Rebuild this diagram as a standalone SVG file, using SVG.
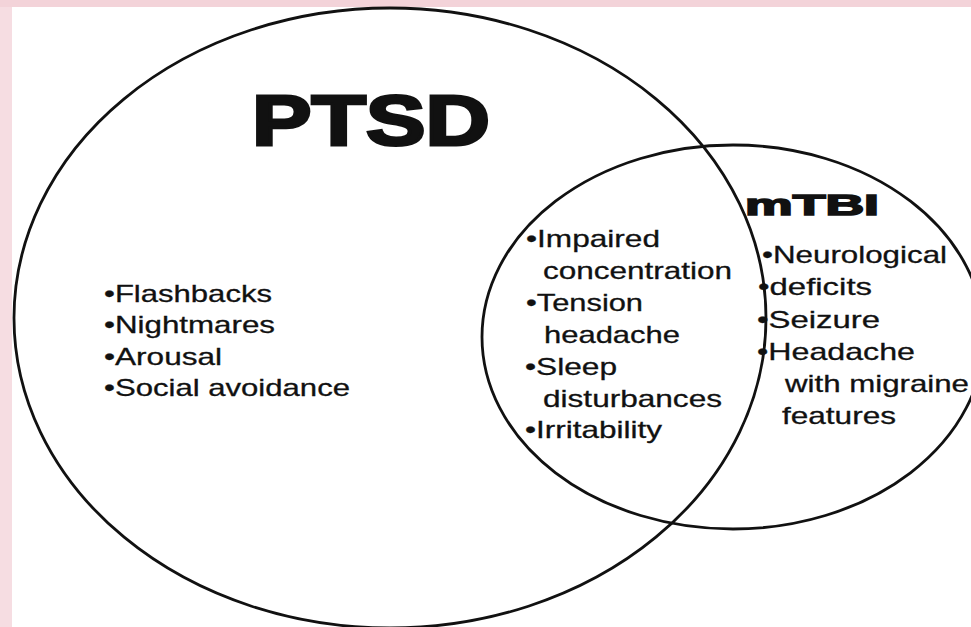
<svg xmlns="http://www.w3.org/2000/svg" width="971" height="627" viewBox="0 0 971 627">
  <style>
    .ring { fill: none; stroke: #111; stroke-width: 2.8; }
    .item { font-family: "Liberation Sans", Arial, sans-serif; font-size: 24px; fill: #111; stroke: #111; stroke-width: 0.3; }
    .title { font-family: "Liberation Sans", Arial, sans-serif; font-weight: bold; fill: #111; stroke: #111; }
  </style>
  <rect x="0" y="0" width="971" height="627" fill="#f6dde2"/>
  <rect x="0" y="0" width="971" height="7" fill="#f3d3d9"/>
  <rect x="12" y="7" width="959" height="620" fill="#ffffff"/>

  <g id="ptsd">
    <ellipse class="ring" cx="390" cy="318" rx="376" ry="310"/>
    <text class="title" x="252" y="145" font-size="70" stroke-width="3" textLength="238" lengthAdjust="spacingAndGlyphs">PTSD</text>
    <text class="item" x="104" y="302" textLength="168" lengthAdjust="spacingAndGlyphs">•Flashbacks</text>
    <text class="item" x="104" y="333" textLength="171" lengthAdjust="spacingAndGlyphs">•Nightmares</text>
    <text class="item" x="104" y="365" textLength="118" lengthAdjust="spacingAndGlyphs">•Arousal</text>
    <text class="item" x="104" y="396" textLength="246" lengthAdjust="spacingAndGlyphs">•Social avoidance</text>
  </g>

  <g id="mtbi">
    <ellipse class="ring" cx="733" cy="337" rx="251" ry="192"/>
    <text class="title" x="745" y="215" font-size="30" stroke-width="1.6" textLength="134" lengthAdjust="spacingAndGlyphs">mTBI</text>
    <text class="item" x="762" y="263" textLength="185" lengthAdjust="spacingAndGlyphs">•Neurological</text>
    <text class="item" x="758" y="295" textLength="114" lengthAdjust="spacingAndGlyphs">•deficits</text>
    <text class="item" x="757" y="328" textLength="123" lengthAdjust="spacingAndGlyphs">•Seizure</text>
    <text class="item" x="757" y="360" textLength="158" lengthAdjust="spacingAndGlyphs">•Headache</text>
    <text class="item" x="785" y="392" textLength="184" lengthAdjust="spacingAndGlyphs">with migraine</text>
    <text class="item" x="782" y="424" textLength="114" lengthAdjust="spacingAndGlyphs">features</text>
  </g>

  <g id="overlap">
    <text class="item" x="526" y="247" textLength="134" lengthAdjust="spacingAndGlyphs">•Impaired</text>
    <text class="item" x="543" y="279" textLength="189" lengthAdjust="spacingAndGlyphs">concentration</text>
    <text class="item" x="526" y="311" textLength="117" lengthAdjust="spacingAndGlyphs">•Tension</text>
    <text class="item" x="544" y="343" textLength="136" lengthAdjust="spacingAndGlyphs">headache</text>
    <text class="item" x="525" y="375" textLength="92" lengthAdjust="spacingAndGlyphs">•Sleep</text>
    <text class="item" x="543" y="407" textLength="179" lengthAdjust="spacingAndGlyphs">disturbances</text>
    <text class="item" x="525" y="438" textLength="137" lengthAdjust="spacingAndGlyphs">•Irritability</text>
  </g>

  <g id="connectors"></g>
</svg>
